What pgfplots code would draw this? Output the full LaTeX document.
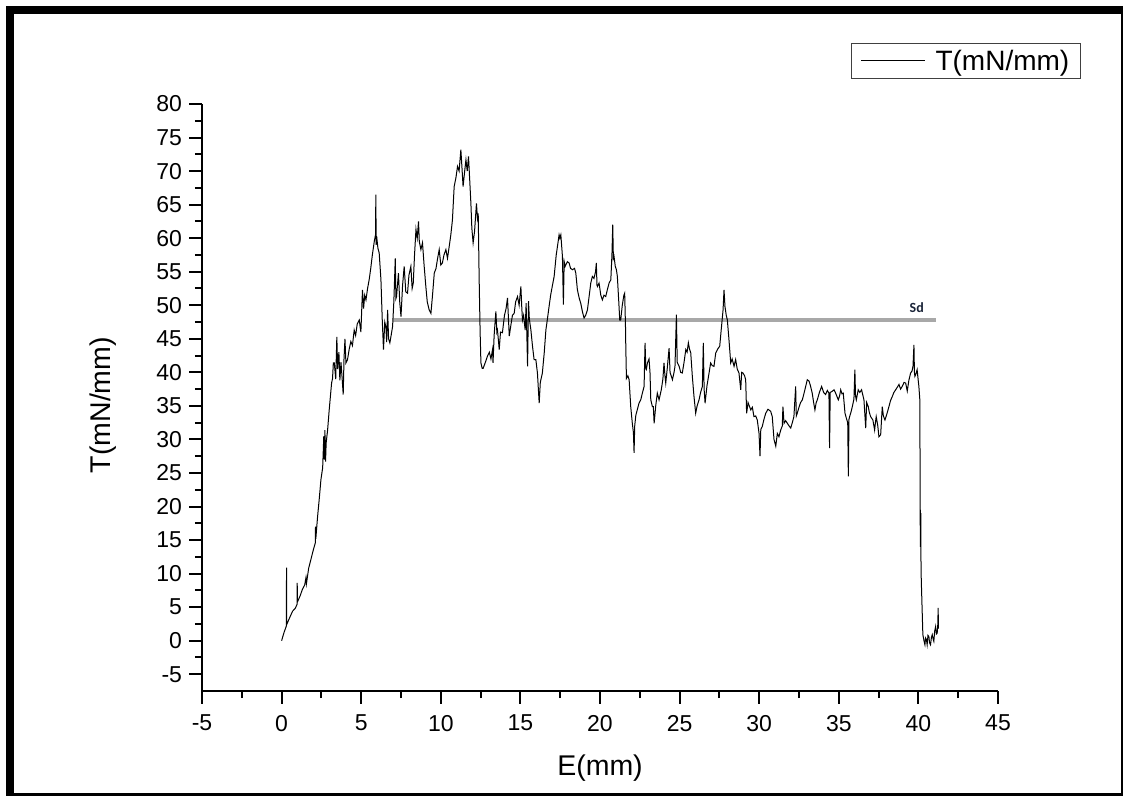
\documentclass[border=0pt]{standalone}
\usepackage{pgfplots}
\pgfplotsset{compat=1.18}
\usepackage{fontspec}
\setmainfont{Liberation Sans}
\newfontfamily\sdfont{Carlito}

\begin{document}
\begin{tikzpicture}[x=1pt,y=1pt]
\begin{axis}[
  scale only axis, width=796pt, height=587pt,
  xmin=-5, xmax=45, ymin=-7.5, ymax=80,
  axis x line*=bottom, axis y line*=left,
  axis line style={line width=2pt, -},
  xtick={-5,0,...,45},
  xticklabels={-5,0,5,10,15,20,25,30,35,40,45},
  ytick={-5,0,...,80},
  yticklabels={-5,0,5,10,15,20,25,30,35,40,45,50,55,60,65,70,75,80},
  minor x tick num=1, minor y tick num=1,
  tick align=outside,
  major tick length=12.5pt, minor tick length=7pt,
  tick style={line width=2pt, black},
  tick label style={font=\fontsize{23}{25}\selectfont},
  yticklabel style={xshift=-4pt},
  xticklabel style={yshift=-8pt},
  xlabel={E(mm)}, ylabel={T(mN/mm)},
  label style={font=\fontsize{28.5}{30}\selectfont},
  xlabel style={at={(axis description cs:0.5,-0.131)}, anchor=center},
  ylabel style={at={(axis description cs:-0.1244,0.487)}, anchor=center},
  legend style={at={(1.104,1.104)}, anchor=north east, draw=black!75,
    line width=1pt, font=\fontsize{28}{30}\selectfont,
    inner xsep=9pt, inner ysep=4.5pt,
    /tikz/every odd column/.append style={column sep=8pt}},
  legend cell align=left,
  legend image code/.code={\draw[#1] (0pt,0pt) -- (64pt,0pt);},
]
\coordinate (O) at (rel axis cs:0,0);
% Sd reference level
\addplot[forget plot, color={rgb,255:red,168;green,168;blue,168}, line width=4.8pt]
  coordinates {(7.0,47.8) (41.1,47.8)};
\node[font=\sdfont\bfseries\fontsize{14}{14}\selectfont, text={rgb,255:red,25;green,35;blue,55}]
  at (axis cs:39.9,49.7) {Sd};

% measured tension along the strip
\addplot[black, line width=1pt] coordinates {
(0.00,0.0) (0.15,1.2) (0.30,2.2) (0.31,10.9) (0.32,2.4) (0.50,3.4) (0.69,4.4)
(0.85,4.8) (0.97,5.4) (0.98,8.6) (1.00,5.8) (1.15,6.6) (1.30,7.6) (1.45,8.3)
(1.53,9.4) (1.56,8.5) (1.70,10.8) (1.84,12.1) (2.00,13.6) (2.12,14.6) (2.13,17.0)
(2.15,15.2) (2.26,18.5) (2.36,21.0) (2.47,24.0) (2.58,25.8) (2.65,30.5) (2.68,27.0)
(2.72,31.4) (2.76,26.7) (2.80,29.5) (2.89,31.4) (2.99,34.4) (3.05,36.0) (3.14,38.4)
(3.20,39.1) (3.25,41.4) (3.31,41.4) (3.40,39.0) (3.47,45.3) (3.52,40.5) (3.60,43.0)
(3.66,38.8) (3.73,41.5) (3.80,39.2) (3.87,36.7) (3.92,42.0) (3.98,45.0) (4.04,41.4)
(4.14,41.9) (4.25,43.5) (4.35,44.6) (4.45,44.0) (4.56,46.3) (4.65,45.5) (4.75,47.2)
(4.88,47.8) (4.95,46.5) (4.98,46.0) (5.08,52.3) (5.15,49.5) (5.22,51.5) (5.30,50.8)
(5.40,52.5) (5.50,53.8) (5.60,55.5) (5.70,57.5) (5.82,59.5) (5.90,60.5) (5.92,66.5)
(5.94,59.0) (5.97,60.3) (6.05,58.5) (6.13,57.8) (6.24,53.8) (6.32,48.0) (6.40,43.4)
(6.48,47.5) (6.55,46.8) (6.60,44.5) (6.66,49.3) (6.72,45.0) (6.80,44.4) (6.88,45.5)
(6.97,46.8) (7.05,50.5) (7.14,57.0) (7.18,51.0) (7.22,51.3) (7.34,54.8) (7.42,50.5)
(7.50,48.3) (7.60,53.0) (7.70,55.8) (7.80,52.0) (7.91,51.8) (8.00,54.5) (8.12,55.8)
(8.20,52.5) (8.27,53.3) (8.35,57.5) (8.44,61.3) (8.52,60.0) (8.60,62.5) (8.65,59.5)
(8.75,58.3) (8.85,59.3) (8.95,56.0) (9.06,52.8) (9.15,50.5) (9.27,49.3) (9.38,48.8)
(9.48,51.5) (9.59,54.8) (9.70,55.5) (9.80,57.0) (9.90,58.3) (10.00,56.0) (10.10,56.3)
(10.20,57.5) (10.32,58.3) (10.42,57.0) (10.53,58.8) (10.63,60.5) (10.73,62.7)
(10.84,67.7) (10.95,69.0) (11.05,70.7) (11.15,70.0) (11.26,73.2) (11.33,70.5)
(11.40,67.7) (11.50,70.0) (11.58,71.7) (11.66,70.0) (11.74,72.2) (11.82,68.5)
(11.89,65.2) (11.95,61.5) (12.03,59.3) (12.12,61.0) (12.24,65.2) (12.30,63.0)
(12.35,63.7) (12.41,53.8) (12.47,46.0) (12.52,41.4) (12.60,40.6) (12.66,40.6)
(12.80,41.5) (12.93,42.4) (13.05,43.0) (13.15,42.0) (13.25,43.4) (13.28,41.4)
(13.35,45.5) (13.46,49.1) (13.52,46.0) (13.56,46.3) (13.67,43.4) (13.75,46.0)
(13.87,45.9) (14.00,48.5) (14.10,49.5) (14.19,51.1) (14.25,48.0) (14.30,45.4)
(14.40,47.0) (14.50,48.5) (14.61,48.8) (14.70,50.5) (14.82,51.3) (14.92,50.0)
(15.03,52.8) (15.08,50.0) (15.13,47.8) (15.20,48.5) (15.30,46.3) (15.36,50.3)
(15.45,40.9) (15.51,50.6) (15.56,48.0) (15.66,46.3) (15.76,43.9) (15.86,41.9)
(15.97,41.9) (16.07,39.9) (16.18,35.4) (16.25,38.5) (16.38,39.9) (16.50,43.0)
(16.60,46.3) (16.70,48.0) (16.80,49.8) (16.90,51.5) (17.00,52.8) (17.12,54.3)
(17.25,57.5) (17.33,58.8) (17.43,60.5) (17.48,60.0) (17.54,60.5) (17.64,57.3)
(17.70,50.1) (17.75,56.5) (17.81,55.8) (17.95,56.5) (18.06,56.3) (18.15,55.5)
(18.27,55.3) (18.40,55.5) (18.48,54.8) (18.58,52.3) (18.70,51.0) (18.79,50.3)
(18.90,49.0) (19.00,48.1) (19.10,48.5) (19.21,49.3) (19.30,51.0) (19.42,53.3)
(19.52,54.3) (19.62,54.0) (19.72,55.0) (19.77,56.3) (19.81,53.0) (19.84,52.8)
(19.94,53.3) (20.05,51.5) (20.15,50.8) (20.25,51.5) (20.36,51.3) (20.46,52.3)
(20.57,53.3) (20.68,53.8) (20.75,57.5) (20.80,62.0) (20.84,57.0) (20.88,57.3)
(20.96,55.8) (21.03,55.3) (21.09,54.3) (21.18,50.5) (21.24,47.8) (21.30,47.8)
(21.40,50.0) (21.50,51.5) (21.55,51.8) (21.60,47.0) (21.62,43.9) (21.66,39.1)
(21.75,39.5) (21.83,38.9) (21.93,34.9) (22.03,32.4) (22.10,31.0) (22.14,28.0)
(22.18,32.0) (22.25,33.6) (22.35,34.5) (22.45,35.4) (22.56,35.9) (22.65,36.8)
(22.77,37.9) (22.83,44.4) (22.88,40.5) (22.91,40.4) (22.98,41.4) (23.08,42.0)
(23.14,40.0) (23.19,35.9) (23.29,34.9) (23.35,34.9) (23.40,32.4) (23.50,35.0)
(23.60,36.9) (23.71,35.9) (23.85,37.4) (23.95,39.0) (24.02,41.4) (24.08,39.5)
(24.13,38.4) (24.22,40.5) (24.34,43.6) (24.40,40.0) (24.47,39.5) (24.55,38.9)
(24.65,40.0) (24.71,40.9) (24.80,48.6) (24.85,41.5) (24.97,40.9) (25.07,40.0)
(25.17,39.9) (25.28,41.5) (25.39,43.4) (25.47,43.0) (25.55,44.4) (25.62,43.5)
(25.70,42.9) (25.80,39.4) (25.90,36.5) (26.01,33.9) (26.10,35.0) (26.22,35.9)
(26.32,37.0) (26.43,37.9) (26.49,44.4) (26.54,37.5) (26.60,35.4) (26.72,38.0)
(26.85,39.9) (26.95,41.4) (27.05,41.0) (27.16,40.9) (27.27,42.9) (27.40,43.5)
(27.52,43.9) (27.62,46.5) (27.73,49.3) (27.79,52.3) (27.85,49.8) (27.93,48.5)
(28.00,47.8) (28.10,44.9) (28.21,41.4) (28.30,42.0) (28.42,40.9) (28.52,41.9)
(28.62,40.5) (28.73,39.9) (28.84,37.4) (28.90,40.0) (28.98,39.9) (29.08,39.5)
(29.15,38.9) (29.21,33.9) (29.30,35.5) (29.47,34.4) (29.57,34.8) (29.67,33.4)
(29.78,33.5) (29.88,32.9) (29.99,30.9) (30.05,27.5) (30.10,31.5) (30.19,31.9)
(30.30,33.0) (30.41,33.9) (30.55,34.5) (30.72,34.2) (30.82,33.4) (30.93,30.0)
(31.04,29.0) (31.14,30.9) (31.24,30.4) (31.35,31.4) (31.45,32.0) (31.49,34.9)
(31.56,32.4) (31.66,32.8) (31.77,32.4) (31.88,32.0) (31.98,31.7) (32.08,32.5)
(32.18,33.4) (32.29,37.9) (32.33,33.5) (32.39,33.9) (32.50,34.8) (32.60,35.5)
(32.71,35.9) (32.85,37.2) (33.02,38.9) (33.13,38.7) (33.22,38.0) (33.33,36.9)
(33.42,35.5) (33.50,34.4) (33.58,35.5) (33.65,35.9) (33.78,37.0) (33.92,37.9)
(34.05,37.0) (34.17,36.7) (34.28,37.3) (34.38,36.9) (34.42,28.7) (34.46,37.0)
(34.60,37.2) (34.70,37.4) (34.80,36.9) (34.97,35.9) (35.05,36.5) (35.12,37.4)
(35.20,36.8) (35.28,36.9) (35.39,33.9) (35.47,33.2) (35.56,32.5) (35.60,24.5)
(35.64,33.0) (35.68,33.4) (35.78,34.2) (35.85,34.9) (35.95,36.0) (36.01,40.4)
(36.05,36.5) (36.10,35.9) (36.22,37.4) (36.32,37.0) (36.43,37.4) (36.52,36.5)
(36.58,35.9) (36.69,31.7) (36.75,35.5) (36.85,34.9) (36.92,34.0) (37.00,33.4)
(37.14,32.9) (37.25,31.4) (37.30,32.5) (37.35,33.4) (37.45,32.0) (37.52,30.4)
(37.63,30.7) (37.73,34.9) (37.80,33.5) (37.90,32.9) (38.02,33.8) (38.15,34.9)
(38.25,35.8) (38.36,36.4) (38.46,37.0) (38.57,37.4) (38.68,37.8) (38.78,38.2)
(38.88,37.5) (38.98,37.9) (39.10,38.5) (39.20,38.4) (39.30,37.2) (39.40,38.8)
(39.51,39.9) (39.60,40.2) (39.66,40.9) (39.72,44.1) (39.75,40.0) (39.78,39.4)
(39.85,39.8) (39.92,40.4) (39.98,39.0) (40.03,37.9) (40.09,35.9) (40.11,21.6)
(40.12,14.0) (40.13,19.5) (40.14,14.5) (40.15,19.0) (40.16,12.3) (40.18,9.1)
(40.28,0.9) (40.35,0.0) (40.41,-0.6) (40.45,0.4) (40.50,0.2) (40.55,-0.6)
(40.60,0.8) (40.66,0.6) (40.70,-0.3) (40.76,-0.6) (40.82,0.5) (40.87,0.9)
(40.92,0.3) (40.97,-0.1) (41.02,1.4) (41.08,2.1) (41.13,1.0) (41.18,1.1)
(41.22,2.5) (41.24,4.9) (41.26,1.8)
};
\addlegendentry{T(mN/mm)}
\end{axis}
% page frame, placed relative to the lower-left corner of the plot box
\pgfresetboundingbox
\begin{scope}[shift={(O)}]
\useasboundingbox (-202,-105) rectangle (922,691);
\fill[black] (-196,-105) rectangle (-188,685);
\fill[black] (-196,677) rectangle (921.3,685);
\fill[black] (918.7,-105) rectangle (921.3,685);
\fill[black] (-196,-105) rectangle (921.3,-102.3);
\end{scope}
\end{tikzpicture}
\end{document}
